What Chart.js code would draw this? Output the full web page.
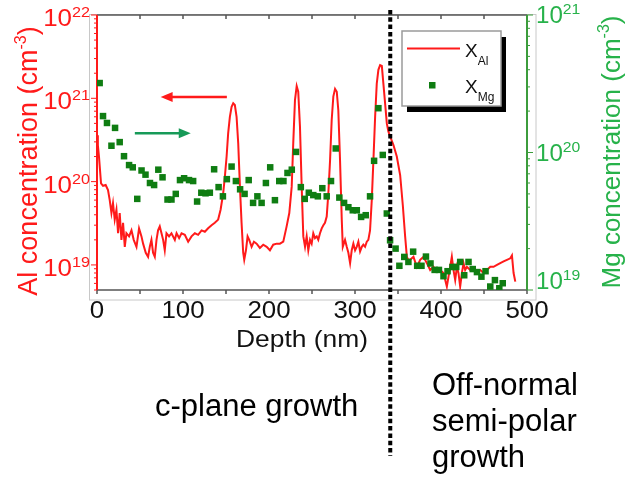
<!DOCTYPE html>
<html lang="en">
<head>
<meta charset="UTF-8">
<title>Al / Mg depth profile</title>
<script src="https://cdn.jsdelivr.net/npm/chart.js"></script>
<style>
  html, body { margin: 0; padding: 0; background: #fff; }
  #wrap { width: 626px; height: 479px; }
</style>
</head>
<body>
<div id="wrap"><canvas id="sims" width="626" height="479"></canvas></div>
<script>
// SIMS depth profile: Al on the left log axis, Mg on the right log axis
const alDepth = [0, 1, 2.3, 4.7, 7.0, 10.1, 12.8, 14.8, 16.8, 18.6,
  20.6, 22.6, 24.5, 26.4, 28.4, 30.3, 32.3, 34.2, 37.3, 40.1,
  42.7, 45.9, 48.9, 51.7, 53.6, 56.7, 59.4, 61.4, 63.3, 65.2,
  67.2, 69.2, 71.0, 73.0, 75.0, 76.9, 78.8, 80.8, 83.8, 86.6,
  90.5, 92.5, 95.5, 98.3, 102.1, 106.0, 109.9, 113.8, 117.6, 121.6,
  125.4, 129.2, 133.2, 137.0, 140.9, 143.7, 146.7, 148.7, 150.7, 152.5,
  154.5, 156.5, 158.4, 160.3, 162.3, 164.2, 166.2, 168.1, 170.0, 171.2,
  173.2, 175.1, 177.0, 179.8, 182.5, 185.6, 189.4, 193.3, 197.3, 201.1,
  204.9, 208.9, 212.7, 216.6, 220.5, 223.6, 226.4, 228.2, 230.2, 232.2,
  234.0, 236.0, 238.0, 239.9, 241.9, 243.8, 245.7, 247.7, 249.6, 251.5,
  253.5, 255.5, 257.3, 259.3, 261.3, 263.2, 265.1, 267.1, 269.0, 271.0,
  272.9, 274.8, 276.8, 278.8, 280.6, 282.6, 284.6, 285.8, 288.4, 290.4,
  292.3, 294.3, 296.2, 298.1, 300.1, 302.0, 303.9, 305.9, 307.9, 309.7,
  311.7, 313.7, 315.5, 317.5, 319.5, 321.4, 323.4, 325.3, 327.2, 329.2,
  331.2, 333.0, 335.0, 337.0, 338.8, 340.8, 344.7, 348.6, 352.5, 355.6,
  358.3, 360.3, 362.1, 364.1, 368.0, 371.9, 375.8, 379.6, 383.6, 387.4,
  391.2, 395.2, 399.0, 402.9, 406.8, 408.7, 410.7, 412.6, 414.5, 416.5,
  418.5, 420.3, 422.3, 424.3, 426.2, 428.1, 430.1, 434.0, 437.8, 441.8,
  445.6, 449.5, 453.4, 457.3, 461.1, 465.1, 468.9, 472.8, 476.7, 480.6,
  482.5, 484.4, 486.4];
const alConc = [3.6e20, 2.75e20, 2.0e20, 9.5e19, 8.9e19, 9.1e19, 7.9e19, 6.0e19, 4.2e19, 5.5e19,
  3.5e19, 4.6e19, 2.4e19, 4.2e19, 2.0e19, 3.2e19, 1.65e19, 2.4e19, 2.2e19, 2.6e19,
  2.0e19, 1.65e19, 2.75e19, 2.2e19, 1.8e19, 1.4e19, 1.25e19, 1.65e19, 2.0e19, 1.4e19,
  1.25e19, 2.0e19, 2.6e19, 2.9e19, 2.4e19, 2.0e19, 1.5e19, 2.4e19, 2.2e19, 2.4e19,
  2.0e19, 2.4e19, 2.1e19, 2.4e19, 2.3e19, 1.9e19, 2.2e19, 2.4e19, 2.3e19, 2.6e19,
  2.5e19, 2.75e19, 3.0e19, 3.2e19, 3.5e19, 4.6e19, 7.2e19, 1.15e20, 2.0e20, 3.8e20,
  6.0e20, 7.9e20, 8.7e20, 8.3e20, 6.0e20, 2.9e20, 8.7e19, 3.2e19, 1.4e19, 1.15e19,
  1.5e19, 2.2e19, 2.0e19, 1.65e19, 1.9e19, 1.8e19, 1.6e19, 1.75e19, 1.65e19, 1.5e19,
  1.75e19, 1.8e19, 1.8e19, 1.9e19, 2.9e19, 4.2e19, 8.7e19, 2.9e20, 9.5e20, 1.4e21,
  1.2e21, 4.6e20, 8.7e19, 2.2e19, 1.65e19, 2.2e19, 1.5e19, 2.0e19, 1.8e19, 2.4e19,
  2.1e19, 2.2e19, 2.0e19, 2.4e19, 2.75e19, 3.0e19, 3.2e19, 3.8e19, 7.2e19, 1.8e20,
  5.5e20, 1.05e21, 1.3e21, 1.2e21, 7.2e20, 1.8e20, 3.5e19, 1.65e19, 2.0e19, 1.65e19,
  1.4e19, 1.05e19, 1.5e19, 1.8e19, 1.5e19, 1.65e19, 1.9e19, 1.45e19, 1.65e19, 1.75e19,
  1.65e19, 1.9e19, 2.0e19, 2.6e19, 6.0e19, 1.8e20, 6.0e20, 1.5e21, 2.2e21, 2.5e21,
  2.45e21, 1.5e21, 8.7e20, 5.0e20, 4.0e20, 3.5e20, 2.75e20, 2.0e20, 1.2e20, 5.2e19,
  2.2e19, 1.25e19, 1.15e19, 1.15e19, 1.25e19, 9.5e18, 1.15e19, 1.25e19, 1.05e19, 8.7e18,
  9.5e18, 8.3e18, 8.7e18, 8.0e18, 5.5e18, 7.2e18, 9.5e18, 1.25e19, 8.7e18, 6.6e18,
  9.5e18, 8.0e18, 5.5e18, 8.0e18, 1.05e19, 8.7e18, 9.5e18, 8.7e18, 9.1e18, 8.3e18,
  8.7e18, 8.0e18, 8.7e18, 9.5e18, 9.5e18, 1.0e19, 1.05e19, 1.1e19, 1.15e19, 1.2e19,
  1.3e19, 8.0e18, 6.3e18];

const mgDepth = [3.1, 7.0, 11.6, 16.8, 21.0, 26.4, 31.4, 37.3, 41.6, 46.8,
  51.8, 56.4, 61.6, 66.4, 71.3, 76.2, 82.0, 86.6, 91.6, 96.5,
  101.3, 107.0, 111.8, 116.4, 121.3, 126.2, 131.2, 136.2, 141.4, 146.4,
  151.0, 156.5, 161.5, 166.4, 171.6, 176.4, 181.5, 186.5, 191.4, 196.4,
  201.4, 206.9, 211.9, 216.8, 221.5, 226.5, 231.4, 237.0, 241.6, 246.3,
  251.5, 256.8, 262.0, 267.1, 272.1, 277.6, 281.8, 287.3, 292.3, 297.4,
  302.1, 307.1, 312.5, 317.5, 322.2, 327.2, 332.3, 337.0, 340.8, 347.2,
  351.6, 357.3, 362.1, 367.6, 372.3, 377.3, 382.5, 387.8, 392.6, 397.6,
  402.9, 407.6, 413.3, 417.7, 422.3, 427.0, 432.0, 436.9, 441.8, 447.0,
  451.8, 457.3, 462.7, 467.8, 471.8];
const mgConc = [3.2e20, 1.84e20, 1.64e20, 1.12e20, 1.51e20, 1.19e20, 9.4e19, 8.1e19, 7.8e19, 4.6e19,
  7.4e19, 6.9e19, 6.0e19, 5.8e19, 7.5e19, 6.6e19, 4.55e19, 4.55e19, 5.0e19, 6.3e19,
  6.5e19, 6.3e19, 6.2e19, 4.4e19, 5.1e19, 5.05e19, 5.1e19, 7.55e19, 5.6e19, 4.8e19,
  6.4e19, 7.9e19, 6.2e19, 5.4e19, 5.0e19, 6.3e19, 4.3e19, 4.8e19, 4.3e19, 6.0e19,
  7.8e19, 4.5e19, 6.2e19, 6.2e19, 7.1e19, 7.5e19, 1.01e20, 5.6e19, 4.6e19, 5.1e19,
  4.9e19, 4.8e19, 5.5e19, 4.8e19, 6.2e19, 1.07e20, 4.7e19, 4.3e19, 4.0e19, 3.8e19,
  3.8e19, 3.4e19, 3.5e19, 4.8e19, 8.7e19, 2.1e20, 9.6e19, 3.6e19, 2.3e19, 2.0e19,
  1.5e19, 1.74e19, 1.6e19, 1.9e19, 1.5e19, 1.5e19, 1.75e19, 1.56e19, 1.4e19, 1.4e19,
  1.26e19, 1.37e19, 1.47e19, 1.47e19, 1.6e19, 1.28e19, 1.6e19, 1.42e19, 1.35e19, 1.25e19,
  1.37e19, 1.06e19, 1.18e19, 1.03e19, 1.12e19];

const depthTicks = [0, 100, 200, 300, 400, 500];
const depthMinorStep = 50;
const alDecades = [19, 20, 21, 22];
const mgDecades = [19, 20, 21];

// arrows telling which axis belongs to which series (depth from -> to, at a concentration)
const alArrow = { from: 151, to: 74, value: 1.04e21 };
const mgArrow = { from: 44, to: 109, value: 1.38e20 };
// interface between c-plane and semi-polar growth
const boundaryDepth = 341;

const FONT = "'Liberation Sans', Arial, Helvetica, sans-serif";
const RED = '#ff1a1a';
const MG_DOT = '#0f7d12';
const MG_AXIS = '#3c9c3c';
const MG_TEXT = '#27b24a';
const ARROW_GREEN = '#179a58';

function drawParts(ctx, parts, x, y, align, sx) {
  sx = sx || 1;
  let w = 0;
  for (const p of parts) {
    ctx.font = p.size + 'px ' + FONT;
    p.w = ctx.measureText(p.t).width;
    w += p.w;
  }
  let cx = align === 'right' ? -w : align === 'center' ? -w / 2 : 0;
  ctx.save();
  ctx.translate(x, y);
  ctx.scale(sx, 1);
  ctx.textAlign = 'left';
  ctx.textBaseline = 'alphabetic';
  for (const p of parts) {
    ctx.font = p.size + 'px ' + FONT;
    ctx.fillText(p.t, cx, p.dy || 0);
    cx += p.w;
  }
  ctx.restore();
}

function seg(ctx, x1, y1, x2, y2) {
  ctx.beginPath();
  ctx.moveTo(x1, y1);
  ctx.lineTo(x2, y2);
  ctx.stroke();
}

function logTickMarks(ctx, scale, x, dir) {
  const lo = Math.floor(Math.log10(scale.min));
  const hi = Math.ceil(Math.log10(scale.max));
  for (let e = lo; e <= hi; e++) {
    for (let m = 1; m <= 9; m++) {
      const v = m * Math.pow(10, e);
      if (v < scale.min * 0.999 || v > scale.max * 1.001) continue;
      const y = scale.getPixelForValue(v);
      seg(ctx, x, y, x + dir * (m === 1 ? 6 : 3), y);
    }
  }
}

function arrow(ctx, x1, x2, y, color) {
  const dir = Math.sign(x2 - x1);
  ctx.strokeStyle = color;
  ctx.fillStyle = color;
  ctx.lineWidth = 2.5;
  seg(ctx, x1, y, x2 - dir * 8, y);
  ctx.beginPath();
  ctx.moveTo(x2, y);
  ctx.lineTo(x2 - dir * 12, y - 5);
  ctx.lineTo(x2 - dir * 12, y + 5);
  ctx.closePath();
  ctx.fill();
}

const axesPlugin = {
  id: 'axesFrame',
  beforeDatasetsDraw(chart) {
    const { ctx, chartArea: a, scales } = chart;
    const x = scales.x;
    ctx.save();
    // light outer frame of the graph
    ctx.strokeStyle = '#c8c8c8';
    ctx.lineWidth = 1;
    ctx.strokeRect(89.5, 14.5, 446.5, 285.5);

    // top and bottom axes
    ctx.strokeStyle = '#555';
    ctx.lineWidth = 1.5;
    seg(ctx, a.left, a.top, a.right, a.top);
    seg(ctx, a.left, a.bottom, a.right, a.bottom);
    for (let d = x.min; d <= x.max; d += depthMinorStep) {
      const px = x.getPixelForValue(d);
      seg(ctx, px, a.top, px, a.top + 4);
      seg(ctx, px, a.bottom, px, a.bottom + 4);
    }

    // left (Al) axis
    ctx.strokeStyle = RED;
    ctx.lineWidth = 2;
    seg(ctx, a.left, a.top, a.left, a.bottom);
    ctx.lineWidth = 1;
    logTickMarks(ctx, scales.yAl, a.left, -1);

    // right (Mg) axis
    ctx.strokeStyle = MG_AXIS;
    ctx.lineWidth = 2;
    seg(ctx, a.right, a.top, a.right, a.bottom);
    ctx.lineWidth = 1;
    logTickMarks(ctx, scales.yMg, a.right, 1);
    ctx.restore();
  },
  afterDraw(chart) {
    const { ctx, chartArea: a, scales } = chart;
    const x = scales.x, yAl = scales.yAl, yMg = scales.yMg;
    ctx.save();

    // depth tick labels and title
    ctx.fillStyle = '#111';
    for (const d of depthTicks) {
      drawParts(ctx, [{ t: String(d), size: 24 }], x.getPixelForValue(d), 318, 'center', 1.08);
    }
    drawParts(ctx, [{ t: 'Depth (nm)', size: 24 }], (a.left + a.right) / 2 - 10, 347, 'center', 1.1);

    // Al axis labels
    ctx.fillStyle = RED;
    for (const e of alDecades) {
      const y = yAl.getPixelForValue(Math.pow(10, e));
      drawParts(ctx, [{ t: '10', size: 24 }, { t: String(e), size: 15, dy: -9 }], 90, y + 11, 'right', 1.08);
    }
    ctx.save();
    ctx.translate(37, 161);
    ctx.rotate(-Math.PI / 2);
    drawParts(ctx, [{ t: 'Al concentration (cm', size: 27 }, { t: '-3', size: 16, dy: -11 }, { t: ')', size: 27 }], 0, 0, 'center');
    ctx.restore();

    // Mg axis labels
    ctx.fillStyle = MG_TEXT;
    for (const e of mgDecades) {
      const y = Math.min(yMg.getPixelForValue(Math.pow(10, e)) + 8, a.bottom - 1);
      drawParts(ctx, [{ t: '10', size: 23 }, { t: String(e), size: 15, dy: -9 }], 536, y, 'left', 1.05);
    }
    ctx.save();
    ctx.translate(620, 152);
    ctx.rotate(-Math.PI / 2);
    drawParts(ctx, [{ t: 'Mg concentration (cm', size: 26 }, { t: '-3', size: 16, dy: -11 }, { t: ')', size: 26 }], 0, 0, 'center');
    ctx.restore();

    // axis arrows
    arrow(ctx, x.getPixelForValue(alArrow.from), x.getPixelForValue(alArrow.to), yAl.getPixelForValue(alArrow.value), RED);
    arrow(ctx, x.getPixelForValue(mgArrow.from), x.getPixelForValue(mgArrow.to), yMg.getPixelForValue(mgArrow.value), ARROW_GREEN);

    // legend box with drop shadow
    ctx.fillStyle = '#000';
    ctx.fillRect(407, 37, 99, 75);
    ctx.fillStyle = '#fff';
    ctx.fillRect(402, 31, 99, 75);
    ctx.strokeStyle = '#9a9a9a';
    ctx.lineWidth = 1.5;
    ctx.strokeRect(402, 31, 99, 75);
    ctx.strokeStyle = RED;
    ctx.lineWidth = 2;
    seg(ctx, 407, 48.5, 460, 48.5);
    ctx.fillStyle = MG_DOT;
    ctx.fillRect(429, 82, 6.5, 6.5);
    ctx.fillStyle = '#111';
    drawParts(ctx, [{ t: 'X', size: 19 }, { t: 'Al', size: 12, dy: 8 }], 465, 56.5, 'left');
    drawParts(ctx, [{ t: 'X', size: 19 }, { t: 'Mg', size: 12, dy: 8 }], 465, 93, 'left');

    // growth-mode boundary
    const bx = x.getPixelForValue(boundaryDepth);
    ctx.strokeStyle = '#000';
    ctx.lineWidth = 4;
    ctx.setLineDash([4.5, 2.8]);
    seg(ctx, bx, 10, bx, 456);
    ctx.setLineDash([]);

    // region captions
    ctx.fillStyle = '#000';
    drawParts(ctx, [{ t: 'c-plane growth', size: 31 }], 155, 416, 'left');
    drawParts(ctx, [{ t: 'Off-normal', size: 31 }], 432, 395, 'left');
    drawParts(ctx, [{ t: 'semi-polar', size: 31 }], 432, 431, 'left');
    drawParts(ctx, [{ t: 'growth', size: 31 }], 432, 467, 'left');
    ctx.restore();
  }
};

new Chart(document.getElementById('sims'), {
  type: 'line',
  data: {
    datasets: [
      {
        label: 'XMg',
        data: mgDepth.map((d, i) => ({ x: d, y: mgConc[i] })),
        yAxisID: 'yMg',
        showLine: false,
        pointStyle: 'rect',
        pointRadius: 4.6,
        pointBorderWidth: 0,
        pointBackgroundColor: MG_DOT,
        order: 0
      },
      {
        label: 'XAl',
        data: alDepth.map((d, i) => ({ x: d, y: alConc[i] })),
        yAxisID: 'yAl',
        borderColor: RED,
        borderWidth: 2,
        pointRadius: 0,
        tension: 0,
        order: 1
      }
    ]
  },
  options: {
    responsive: false,
    animation: false,
    events: [],
    layout: { padding: { top: 15, left: 0, right: 0, bottom: 0 } },
    plugins: { legend: { display: false }, tooltip: { enabled: false } },
    scales: {
      x: {
        type: 'linear', min: 0, max: 500,
        grid: { display: false, drawTicks: false },
        border: { display: false },
        ticks: { display: false },
        afterFit: s => { s.height = 189; }
      },
      yAl: {
        type: 'logarithmic', position: 'left', min: 5e18, max: 1e22,
        grid: { display: false, drawTicks: false },
        border: { display: false },
        ticks: { display: false },
        afterFit: s => { s.width = 97; }
      },
      yMg: {
        type: 'logarithmic', position: 'right', min: 1e19, max: 1e21,
        grid: { display: false, drawTicks: false },
        border: { display: false },
        ticks: { display: false },
        afterFit: s => { s.width = 99; }
      }
    }
  },
  plugins: [axesPlugin]
});
</script>
</body>
</html>
